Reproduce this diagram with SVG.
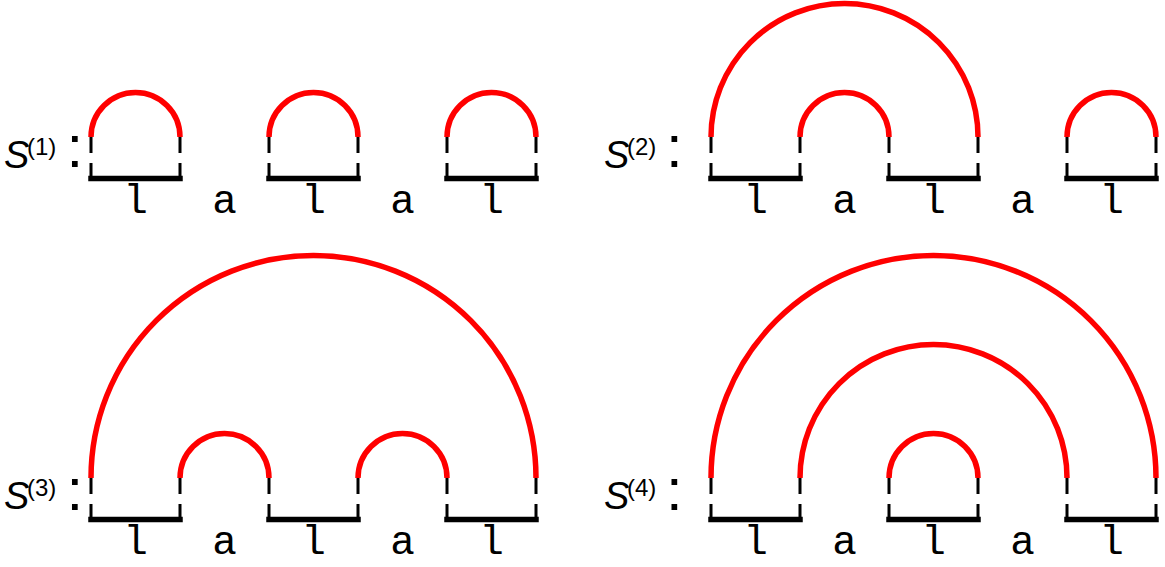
<svg xmlns="http://www.w3.org/2000/svg" width="1165" height="567" viewBox="0 0 1165 567">
<style>
.arc{fill:none;stroke:#ff0000;stroke-width:5.5}
.dash{stroke:#000;stroke-width:3;stroke-dasharray:16 10;fill:none}
.bar{stroke:#000;stroke-width:5.5;stroke-linecap:square}
.ch{font-family:"Liberation Mono","Courier New",monospace;font-size:41px;fill:#000;text-anchor:middle}
.S{font-family:"Liberation Sans",Arial,sans-serif;font-style:italic;font-size:38px;fill:#000}
.sup{font-family:"Liberation Sans",Arial,sans-serif;font-size:24px;fill:#000}
.col{font-family:"Liberation Sans",Arial,sans-serif;font-size:60px;fill:#000}
</style>
<defs>
<g id="base">
<path class="dash" d="M0 0V41M89 0V41M178 0V41M267 0V41M356 0V41M445 0V41"/>
<path class="bar" d="M0 41.5H89M178 41.5H267M356 41.5H445"/>
<text class="ch" x="44.5" y="76">l</text>
<text class="ch" x="133.5" y="76">a</text>
<text class="ch" x="222.5" y="76">l</text>
<text class="ch" x="311.5" y="76">a</text>
<text class="ch" x="400.5" y="76">l</text>
</g>
</defs>
<g id="panel1">
<text class="S" x="4" y="168">S</text>
<text class="sup" x="27" y="155">(1)</text>
<text class="col" x="66.5" y="167">:</text>
<use href="#base" x="91" y="137"/>
<g id="arcs1">
<path class="arc" d="M91 137A44.5 44.5 0 0 1 180 137"/>
<path class="arc" d="M269 137A44.5 44.5 0 0 1 358 137"/>
<path class="arc" d="M447 137A44.5 44.5 0 0 1 536 137"/>
</g>
</g>
<g id="panel2">
<text class="S" x="604" y="168">S</text>
<text class="sup" x="627" y="155">(2)</text>
<text class="col" x="666" y="167">:</text>
<use href="#base" x="711" y="137"/>
<g id="arcs2">
<path class="arc" d="M711 137A133.5 133.5 0 0 1 978 137"/>
<path class="arc" d="M800 137A44.5 44.5 0 0 1 889 137"/>
<path class="arc" d="M1067 137A44.5 44.5 0 0 1 1156 137"/>
</g>
</g>
<g id="panel3">
<text class="S" x="4" y="509">S</text>
<text class="sup" x="27" y="496">(3)</text>
<text class="col" x="66.5" y="510">:</text>
<use href="#base" x="91" y="478"/>
<g id="arcs3">
<path class="arc" d="M91 478A222.5 222.5 0 0 1 536 478"/>
<path class="arc" d="M180 478A44.5 44.5 0 0 1 269 478"/>
<path class="arc" d="M358 478A44.5 44.5 0 0 1 447 478"/>
</g>
</g>
<g id="panel4">
<text class="S" x="604" y="509">S</text>
<text class="sup" x="627" y="496">(4)</text>
<text class="col" x="666" y="510">:</text>
<use href="#base" x="711" y="478"/>
<g id="arcs4">
<path class="arc" d="M711 478A222.5 222.5 0 0 1 1156 478"/>
<path class="arc" d="M800 478A133.5 133.5 0 0 1 1067 478"/>
<path class="arc" d="M889 478A44.5 44.5 0 0 1 978 478"/>
</g>
</g>
</svg>
